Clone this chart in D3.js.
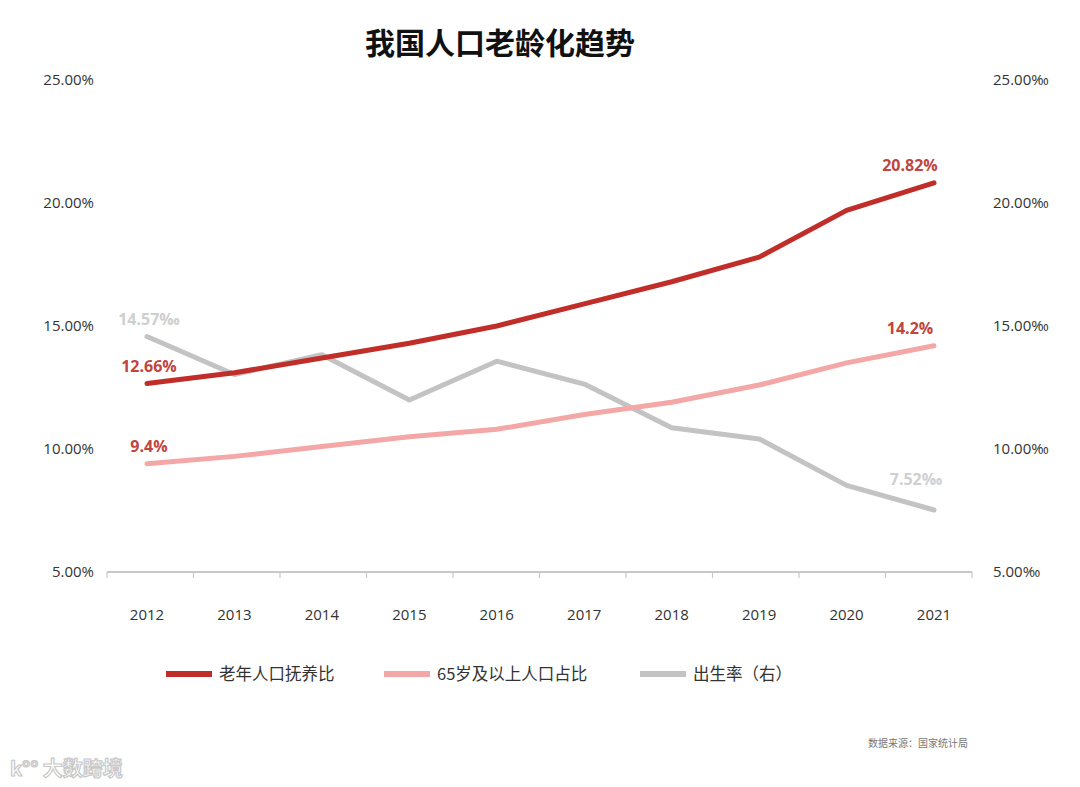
<!DOCTYPE html>
<html>
<head>
<meta charset="utf-8">
<script src="https://cdn.jsdelivr.net/npm/d3@7"></script>
<style>
  body { margin: 0; background: #fff; }
  svg { display: block; font-family: "Noto Sans CJK SC", "Noto Sans", sans-serif; }
</style>
</head>
<body>
<div id="chart"></div>
<script>
// 我国人口老龄化趋势 — dual axis line chart (left %, right ‰)

const years = ["2012", "2013", "2014", "2015", "2016", "2017", "2018", "2019", "2020", "2021"];
const dependency_ratio = [12.66, 13.1, 13.7, 14.3, 15.0, 15.9, 16.8, 17.8, 19.7, 20.82];
const aged_share = [9.4, 9.7, 10.1, 10.5, 10.8, 11.4, 11.9, 12.6, 13.5, 14.2];
const birth_rate = [14.57, 13.03, 13.83, 11.99, 13.57, 12.64, 10.86, 10.41, 8.52, 7.52];
const y_ticks = [5, 10, 15, 20, 25];

const series = [
  { name: "老年人口抚养比", values: dependency_ratio, color: "#c12d28", label_color: "#c0453c", axis: "left" },
  { name: "65岁及以上人口占比", values: aged_share, color: "#f3a7a7", label_color: "#c0453c", axis: "left" },
  { name: "出生率（右）", values: birth_rate, color: "#c3c3c3", label_color: "#cfcfcf", axis: "right" },
];

const width = 1080;
const height = 787;
const margin = { top: 80, right: 108, bottom: 215, left: 107 };

const svg = d3.select("#chart").append("svg")
  .attr("width", width)
  .attr("height", height);

// band scale for the baseline tick marks, point scale for the data positions
const x_band = d3.scaleBand()
  .domain(years)
  .range([margin.left, width - margin.right]);
const x = d3.scalePoint()
  .domain(years)
  .range([147, 934]);
const y_left = d3.scaleLinear()
  .domain([5, 25])
  .range([height - margin.bottom, margin.top]);
const y_right = d3.scaleLinear()
  .domain([5, 25])
  .range([height - margin.bottom, margin.top]);

svg.append("text")
  .attr("x", 500)
  .attr("y", 54)
  .attr("text-anchor", "middle")
  .attr("font-size", 30)
  .attr("font-weight", 700)
  .attr("fill", "#111")
  .text("我国人口老龄化趋势");

// left axis labels
svg.append("g")
  .attr("transform", `translate(${margin.left - 10},0)`)
  .call(d3.axisLeft(y_left).tickValues(y_ticks).tickSize(0).tickFormat((d) => d.toFixed(2) + "%"))
  .call((g) => g.select(".domain").remove())
  .call((g) => g.selectAll("text").attr("font-size", 15).attr("fill", "#333")
    .attr("font-family", "'Open Sans', sans-serif"));

// right axis labels
svg.append("g")
  .attr("transform", `translate(${width - margin.right + 18},0)`)
  .call(d3.axisRight(y_right).tickValues(y_ticks).tickSize(0).tickFormat((d) => d.toFixed(2) + "‰"))
  .call((g) => g.select(".domain").remove())
  .call((g) => g.selectAll("text").attr("font-size", 15).attr("fill", "#333")
    .attr("font-family", "'Open Sans', sans-serif"));

// x axis: baseline with tick marks at category boundaries
const base_y = y_left(5);
svg.append("line")
  .attr("x1", margin.left).attr("x2", width - margin.right)
  .attr("y1", base_y).attr("y2", base_y)
  .attr("stroke", "#c8c8c8").attr("stroke-width", 2);
const boundaries = years.map((d) => x_band(d)).concat([x_band(years[years.length - 1]) + x_band.bandwidth()]);
svg.append("g")
  .selectAll("line")
  .data(boundaries)
  .join("line")
  .attr("x1", (d) => d).attr("x2", (d) => d)
  .attr("y1", base_y).attr("y2", base_y + 6)
  .attr("stroke", "#c8c8c8").attr("stroke-width", 1.2);
svg.append("g")
  .selectAll("text")
  .data(years)
  .join("text")
  .attr("x", (d) => x(d))
  .attr("y", base_y + 48)
  .attr("text-anchor", "middle")
  .attr("font-size", 15)
  .attr("fill", "#333")
  .attr("font-family", "'Open Sans', sans-serif")
  .text((d) => d);

// lines: grey first so red lines sit above it
[series[2], series[1], series[0]].forEach((s) => {
  const scale = s.axis === "left" ? y_left : y_right;
  const line = d3.line()
    .x((d, i) => x(years[i]))
    .y((d) => scale(d));
  svg.append("path")
    .attr("d", line(s.values))
    .attr("fill", "none")
    .attr("stroke", s.color)
    .attr("stroke-width", 5)
    .attr("stroke-linecap", "round")
    .attr("stroke-linejoin", "round");
});

// end labels
function end_label(s, index, dx, dy, text) {
  const scale = s.axis === "left" ? y_left : y_right;
  svg.append("text")
    .attr("x", x(years[index]) + dx)
    .attr("y", scale(s.values[index]) + dy)
    .attr("text-anchor", "middle")
    .attr("font-size", 16)
    .attr("font-weight", 700)
    .attr("fill", s.label_color)
    .attr("font-family", "'Open Sans', sans-serif")
    .text(text);
}
end_label(series[0], 0, 2, -12, "12.66%");
end_label(series[1], 0, 2, -12, "9.4%");
end_label(series[2], 0, 2, -12, "14.57‰");
end_label(series[0], 9, -24, -12, "20.82%");
end_label(series[1], 9, -24, -12, "14.2%");
end_label(series[2], 9, -18, -25, "7.52‰");

// legend
const legend_x = [166, 384, 640];
const legend = svg.append("g")
  .selectAll("g")
  .data(series)
  .join("g")
  .attr("transform", (d, i) => `translate(${legend_x[i]},674)`);
legend.append("line")
  .attr("x1", 0).attr("x2", 46)
  .attr("stroke", (d) => d.color)
  .attr("stroke-width", 6);
legend.append("text")
  .attr("x", 53)
  .attr("y", 6)
  .attr("font-size", 16.5)
  .attr("fill", "#333")
  .text((d) => d.name);

// source note
svg.append("text")
  .attr("x", 968)
  .attr("y", 747)
  .attr("text-anchor", "end")
  .attr("font-size", 10)
  .attr("fill", "#777")
  .text("数据来源：国家统计局");

// watermark
svg.append("text")
  .attr("x", 10)
  .attr("y", 776)
  .attr("font-size", 20)
  .attr("font-weight", 700)
  .attr("fill", "#fff")
  .attr("stroke", "#c8c8c8")
  .attr("stroke-width", 1.2)
  .text("k°° 大数跨境");
</script>
</body>
</html>
